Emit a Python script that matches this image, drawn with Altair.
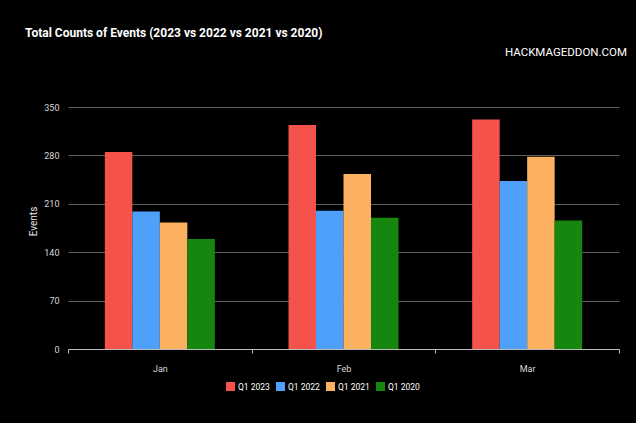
import altair as alt
import pandas as pd

# ---- data ----
months = ["Jan", "Feb", "Mar"]
series = ["Q1 2023", "Q1 2022", "Q1 2021", "Q1 2020"]
q1_2023 = [285, 324, 332]
q1_2022 = [199, 200, 243]
q1_2021 = [183, 253, 278]
q1_2020 = [159, 190, 186]
y_ticks = [0, 70, 140, 210, 280, 350]
title_text = ["Total Counts of Events (2023 vs 2022 vs 2021 vs 2020)"]
brand_text = ["HACKMAGEDDON.COM"]

colors = ["#F4524B", "#4EA0FB", "#FBB160", "#17860F"]

rows = []
for s, vals in zip(series, [q1_2023, q1_2022, q1_2021, q1_2020]):
    for m, v in zip(months, vals):
        rows.append({"Month": m, "Series": s, "Events": v})
df = pd.DataFrame(rows)

FONT = "Roboto"
W, H = 551, 242

y_enc = alt.Y(
    "Events:Q",
    scale=alt.Scale(domain=[0, 350], nice=False),
    axis=alt.Axis(values=y_ticks, title="Events", domain=False, ticks=False,
                  labelPadding=9, labelColor="#d8d8d8", labelFontSize=9,
                  gridColor="#5e5e5e", gridWidth=1,
                  titleColor="#e6e6e6", titleFontSize=10, titleFontWeight="normal",
                  titleX=-35, titleY=114, titleBaseline="middle"),
)

# invisible layer that carries the month axis (ticks at band boundaries)
axis_layer = alt.Chart(df).mark_bar(opacity=0).encode(
    x=alt.X(
        "Month:N", sort=months,
        scale=alt.Scale(paddingInner=0, paddingOuter=0),
        axis=alt.Axis(orient="bottom", title=None, labelAngle=0, tickBand="extent",
                      domainColor="#bdbdbd", tickColor="#bdbdbd", tickSize=4,
                      labelPadding=11, labelColor="#d8d8d8", labelFontSize=9,
                      grid=False),
    ),
    y=y_enc,
)

bars = alt.Chart(df).mark_bar().encode(
    x=alt.X("Month:N", sort=months,
            scale=alt.Scale(paddingInner=0.401, paddingOuter=0.2005),
            axis=None),
    xOffset=alt.XOffset("Series:N", sort=series,
                        scale=alt.Scale(paddingInner=0, paddingOuter=0)),
    y=y_enc,
    color=alt.Color(
        "Series:N", sort=series,
        scale=alt.Scale(domain=series, range=colors),
        legend=alt.Legend(title=None, orient="none", direction="horizontal",
                          legendX=158, legendY=275, symbolType="square",
                          symbolSize=81, symbolStrokeWidth=0, symbolOpacity=1,
                          labelColor="#ffffff", labelFontSize=8.5, labelOffset=3,
                          columnPadding=6),
    ),
)

brand = alt.Chart(pd.DataFrame({"t": brand_text})).mark_text(
    align="right", baseline="alphabetic", font=FONT, fontSize=11.5, color="#ffffff"
).encode(x=alt.value(W + 8), y=alt.value(-51), text="t:N")

title = alt.Chart(pd.DataFrame({"t": title_text})).mark_text(
    align="left", baseline="alphabetic", font=FONT, fontSize=12, fontWeight="bold",
    color="#ffffff"
).encode(x=alt.value(-43), y=alt.value(-70), text="t:N")

chart = alt.layer(axis_layer, bars, brand, title).resolve_scale(x="independent").properties(
    width=W, height=H,
    autosize=alt.AutoSizeParams(type="none"),
    padding={"left": 68, "top": 107, "right": 17, "bottom": 74},
    background="#000000",
).configure_view(stroke=None).configure_axis(
    labelFont=FONT, titleFont=FONT
).configure_legend(labelFont=FONT)

chart.save("out.html", embed_options={"renderer": "svg", "actions": False})
